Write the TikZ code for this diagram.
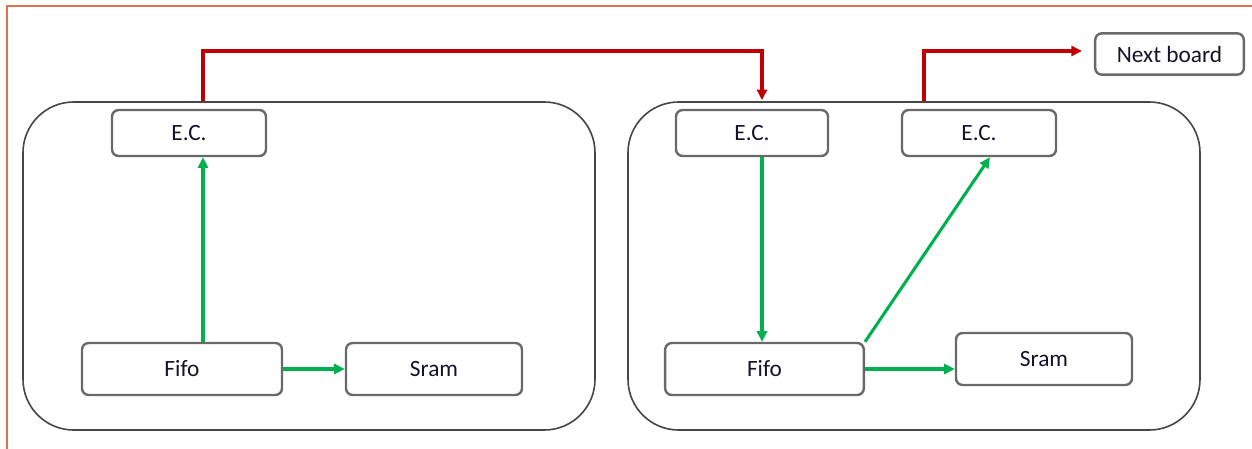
\documentclass[tikz,border=0pt]{standalone}
\usepackage{fontspec}
\setmainfont{Carlito}
\usetikzlibrary{arrows.meta,calc}
\definecolor{framecol}{RGB}{222,112,84}
\definecolor{boxcol}{RGB}{105,105,105}
\definecolor{boardcol}{RGB}{70,70,70}
\definecolor{linkred}{RGB}{192,0,0}
\definecolor{linkgreen}{RGB}{0,176,80}
\definecolor{txtcol}{RGB}{20,20,40}
\tikzset{
  board/.style={draw=boardcol, line width=1.2pt, rounded corners=38pt, inner sep=0pt},
  unit/.style={draw=boxcol, line width=1.8pt, rounded corners=5pt, fill=white,
    inner sep=0pt, text=txtcol, font=\fontsize{17.5}{19}\selectfont},
  redlink/.style={draw=linkred, line width=2.3pt, -{Triangle[length=8pt,width=7.5pt]}},
  greenlink/.style={draw=linkgreen, line width=2.3pt, -{Triangle[length=8pt,width=7.5pt]}}
}
\begin{document}
\begin{tikzpicture}[x=0.75pt,y=-0.75pt]
  \useasboundingbox (0,0) rectangle (1252,449);
  % page frame
  \draw[framecol, line width=1.3pt] (7,449) -- (7,6) -- (1252,6);

  % boards
  \node[board, minimum width=429pt, minimum height=246pt] (boardL) at (309,266) {};
  \node[board, minimum width=429pt, minimum height=246pt] (boardR) at (914,266) {};

  % units on the first board
  \node[unit, minimum width=115.5pt, minimum height=34.5pt] (ecL) at (189,133) {E.C.};
  \node[unit, minimum width=150pt, minimum height=39pt] (fifoL) at (182,369) {Fifo};
  \node[unit, minimum width=132pt, minimum height=39pt] (sramL) at (434,369) {Sram};

  % units on the second board
  \node[unit, minimum width=114pt, minimum height=34.5pt] (ecB) at (752,133) {E.C.};
  \node[unit, minimum width=115.5pt, minimum height=34.5pt] (ecC) at (979,133) {E.C.};
  \node[unit, minimum width=149pt, minimum height=39pt] (fifoR) at (764.5,369) {Fifo};
  \node[unit, minimum width=132pt, minimum height=39pt] (sramR) at (1044,359) {Sram};

  % next board
  \node[unit, minimum width=111.5pt, minimum height=31pt] (nextB) at (1169.5,54) {Next board};

  % routing points
  \coordinate (t1) at (203,51);
  \coordinate (t2) at (762,51);
  \coordinate (t3) at (924,51);
  \coordinate (g2) at (990,0);

  % board-to-board links
  \draw[redlink] (t1 |- boardL.north) -- (t1) -- (t2) -- ($(t2 |- boardR.north)+(0,-1)$);
  \draw[redlink, shorten >=9pt] (t3 |- boardR.north) -- (t3) -- (t3 -| nextB.west);

  % links inside the boards
  \draw[greenlink] (t1 |- fifoL.north) -- (t1 |- ecL.south);
  \draw[greenlink] (fifoL.east) -- (sramL.west);
  \draw[greenlink] (t2 |- ecB.south) -- (t2 |- fifoR.north);
  \draw[greenlink] (fifoR.north east) -- (g2 |- ecC.south);
  \draw[greenlink] (fifoR.east) -- (fifoR.east -| sramR.west);
\end{tikzpicture}
\end{document}
